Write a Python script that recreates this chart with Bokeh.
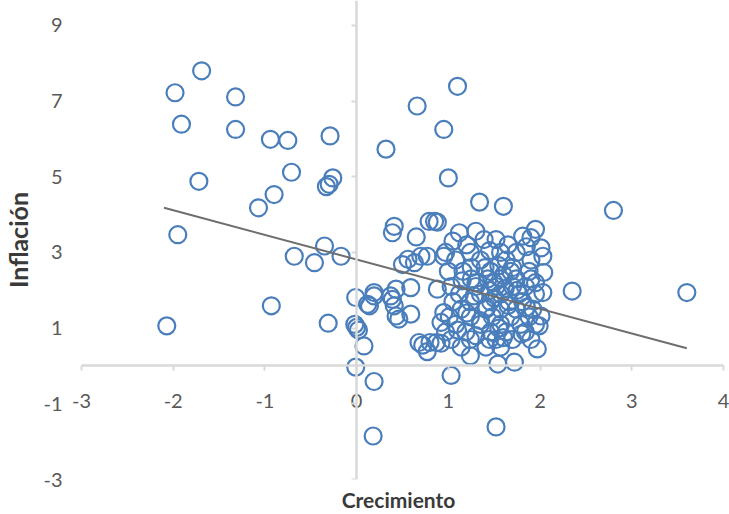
from bokeh.plotting import figure
from bokeh.models import LinearAxis, FixedTicker, Range1d, CustomLabelingPolicy
from bokeh.embed import file_html
from bokeh.resources import INLINE
from bokeh.core.properties import value

# ---- data ----
crecimiento = [
    -1.69, -1.98, -1.32, -1.91, -1.32, -0.94, -0.75, -0.29, 0.32, -0.71, -1.72, -0.26, -0.33, -0.30,
    -0.90, -1.07, -1.95, 1.10, 0.66, 0.95, 1.00, 1.34, 1.60, 2.80,
    -0.68, -0.46, -0.35, -0.17, -0.93, -2.07, -0.31,
    -0.01, -0.02, 0.02, 0.00, 0.08, -0.01, 0.19, 0.18, 1.03, 1.52,
    0.12, 0.19, 0.37, 0.41, 0.43, 0.14, 0.19,
    0.46, 0.59, 0.59, 0.43, 0.39,
    0.41, 0.39, 0.65, 0.79, 0.85, 0.88,
    0.56, 0.50, 0.63, 0.70, 0.77,
    0.88, 0.68, 0.72, 0.80, 0.87, 0.77, 0.92,
    1.24, 1.54, 1.72, 1.97,
    2.35, 3.60,
    2.03, 2.04, 2.03, 1.99, 2.01,
    0.95, 0.92,
    1.12, 1.30, 1.39, 1.52, 1.81, 1.95, 1.90, 2.01,
    0.97, 1.24, 1.57, 1.74,
    1.08, 1.35, 1.63, 1.90,
    1.16, 1.46, 1.68, 1.88,
    1.25, 1.43, 1.57, 1.74, 1.90,
    1.03, 1.30, 1.52, 1.70, 1.84,
    1.12, 1.35, 1.57, 1.77, 1.95,
    1.05, 1.24, 1.46, 1.66, 1.81,
    1.14, 1.41, 1.57, 1.74, 1.92,
    1.01, 1.24, 1.48, 1.68, 1.88,
    1.08, 1.35, 1.57, 1.79, 1.95,
    0.97, 1.19, 1.46, 1.63, 1.84,
    1.03, 1.24, 1.52, 1.70, 1.90,
    1.14, 1.41, 1.57,
    1.30, 1.45, 1.60, 1.50, 1.40, 1.20, 1.35, 1.55, 1.65, 1.50, 1.62, 1.28, 1.42, 1.70, 1.55, 1.25,
    1.15, 1.10, 1.30, 1.45, 1.60, 1.80, 1.85, 1.75, 1.95, 1.20, 1.45, 1.65, 1.85, 1.00, 0.95, 1.05,
]
inflacion = [
    7.80, 7.22, 7.11, 6.39, 6.25, 5.99, 5.96, 6.08, 5.73, 5.12, 4.88, 4.97, 4.74, 4.80,
    4.53, 4.18, 3.47, 7.39, 6.87, 6.25, 4.97, 4.33, 4.22, 4.11,
    2.90, 2.73, 3.17, 2.90, 1.59, 1.06, 1.13,
    1.81, 1.10, 0.95, 1.02, 0.53, -0.03, -0.41, -1.85, -0.25, -1.61,
    1.63, 1.85, 1.85, 1.59, 1.32, 1.59, 1.94,
    1.24, 1.37, 2.07, 2.03, 1.76,
    3.69, 3.52, 3.41, 3.82, 3.82, 3.80,
    2.82, 2.68, 2.73, 2.90, 2.90,
    2.03, 0.62, 0.55, 0.62, 0.62, 0.38, 0.60,
    0.27, 0.05, 0.10, 0.45,
    1.98, 1.94,
    1.94, 2.47, 2.90, 1.06, 1.32,
    1.41, 1.15,
    3.52, 3.56, 3.34, 3.34, 3.43, 3.61, 3.39, 3.12,
    3.0, 3.0, 3.0, 3.0,
    2.8, 2.8, 2.8, 2.8,
    2.5, 2.5, 2.5, 2.5,
    2.3, 2.3, 2.3, 2.3, 2.3,
    2.1, 2.1, 2.1, 2.1, 2.1,
    1.9, 1.9, 1.9, 1.9, 1.9,
    1.7, 1.7, 1.7, 1.7, 1.7,
    1.5, 1.5, 1.5, 1.5, 1.5,
    1.3, 1.3, 1.3, 1.3, 1.3,
    1.1, 1.1, 1.1, 1.1, 1.1,
    0.9, 0.9, 0.9, 0.9, 0.9,
    0.7, 0.7, 0.7, 0.7, 0.7,
    0.5, 0.5, 0.5,
    2.20, 2.00, 2.40, 1.80, 2.60, 1.40, 1.20, 1.00, 1.60, 2.20, 2.05, 1.85, 1.55, 2.60, 2.65, 2.60,
    2.25, 0.95, 0.80, 0.70, 0.75, 0.85, 1.55, 2.00, 2.20, 3.20, 3.05, 3.20, 3.15, 2.50, 2.90, 3.30,
]
trend_x = [-2.1, 3.6]
trend_y = [4.18, 0.47]

x_ticks = [-3, -2, -1, 0, 1, 2, 3, 4]
x_tick_labels = ["-3", "-2", "-1", "0", "1", "2", "3", "4"]
y_ticks = [-3, -1, 1, 3, 5, 7, 9]
y_tick_labels = ["-3", "-1", "1", "3", "5", "7", "9"]

FONT = "Lato"
AXIS_GRAY = "#d9d9d9"
LABEL_GRAY = "#595959"
TITLE_COLOR = "#3a3a3a"

p = figure(width=729, height=514, x_range=Range1d(-3.1523, 4.0653), y_range=Range1d(-3, 9.658),
           output_backend="svg", toolbar_location=None,
           x_axis_location=None, y_axis_location=None,
           min_border_left=66, min_border_right=0, min_border_top=0, min_border_bottom=33)
p.outline_line_color = None
p.xgrid.visible = False
p.ygrid.visible = False
p.background_fill_color = "white"
p.border_fill_color = "white"

no_labels = CustomLabelingPolicy(code="return []")

# y axis line through x = 0 (ticks only)
yline = LinearAxis(fixed_location=0, ticker=FixedTicker(ticks=y_ticks), bounds=(-3, 9.658),
                   axis_line_color=AXIS_GRAY, axis_line_width=2.5,
                   major_tick_line_color=AXIS_GRAY, major_tick_line_width=2,
                   major_tick_out=5, major_tick_in=0, minor_tick_line_color=None,
                   major_label_policy=no_labels, major_label_standoff=0)
p.add_layout(yline, "left")

# y tick labels + title at the left edge
ylab = LinearAxis(ticker=FixedTicker(ticks=y_ticks), axis_label="Inflación",
                  major_label_overrides={t: s for t, s in zip(y_ticks, y_tick_labels)},
                  axis_line_color=None, major_tick_line_color=None, minor_tick_line_color=None,
                  major_tick_out=0, major_tick_in=0, major_label_standoff=5,
                  major_label_text_font=FONT, major_label_text_font_size="20px",
                  major_label_text_color=LABEL_GRAY,
                  axis_label_text_font=FONT, axis_label_text_font_style="bold",
                  axis_label_text_font_size="25px", axis_label_text_color=TITLE_COLOR,
                  axis_label_standoff=7)
p.add_layout(ylab, "left")

# x axis line through y = 0 (ticks only)
xline = LinearAxis(fixed_location=0, ticker=FixedTicker(ticks=x_ticks), bounds=(-3, 4),
                   axis_line_color=AXIS_GRAY, axis_line_width=2.5,
                   major_tick_line_color=AXIS_GRAY, major_tick_line_width=2,
                   major_tick_out=0, major_tick_in=5, minor_tick_line_color=None,
                   major_label_policy=no_labels, major_label_standoff=0)
p.add_layout(xline, "above")

# x title at the bottom
xtitle = LinearAxis(ticker=FixedTicker(ticks=[]), axis_label="Crecimiento",
                    axis_line_color=None, major_tick_line_color=None, minor_tick_line_color=None,
                    major_label_policy=no_labels,
                    axis_label_text_font=FONT, axis_label_text_font_style="bold",
                    axis_label_text_font_size="21px", axis_label_text_color=TITLE_COLOR,
                    axis_label_standoff=7)
p.add_layout(xtitle, "below")

# x tick labels next to the axis line
p.text(x=x_ticks, y=[0] * len(x_ticks), text=x_tick_labels, y_offset=28,
       text_align="center", text_baseline="top",
       text_font=value(FONT), text_font_size="20px", text_color=LABEL_GRAY)

# scatter
p.scatter(crecimiento, inflacion, marker="circle", size=17, fill_color=None,
          line_color="#4a7ebb", line_width=2.2)

# trend line
p.line(trend_x, trend_y, line_color="#6e6e6e", line_width=2)

open("out.html", "w").write(file_html(p, INLINE))
